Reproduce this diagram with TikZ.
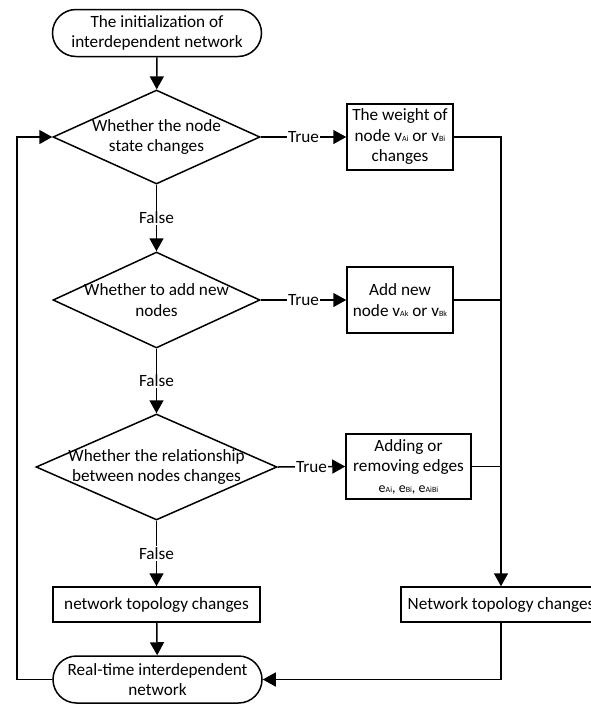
\documentclass[tikz,border=0pt]{standalone}
\usepackage{fontspec}
\setmainfont{Carlito}
\usetikzlibrary{arrows.meta,shapes.geometric,shapes.misc}
\newcommand\smallsub[1]{{\fontsize{8}{8}\selectfont #1}}
\begin{document}
\begin{tikzpicture}[x=1pt,y=-1pt,
  every node/.style={font=\fontsize{17.2}{20.5}\selectfont, align=center},
  base/.style={draw, line width=1.5pt, inner sep=0pt},
  term/.style={base, rounded rectangle, minimum width=209pt, minimum height=47pt},
  proc/.style={base, rectangle},
  dia/.style={base, diamond},
  lab/.style={fill=white, inner sep=1pt},
  line/.style={line width=1.5pt},
  arr/.style={line, -{Triangle[length=13pt,width=14pt]}}]
\useasboundingbox (0,0) rectangle (591,705);

\node[term] (start) at (157,33) {The initialization of\\interdependent network};

\node[dia, minimum width=207pt, minimum height=94pt] (d1) at (156.5,137) {};
\node (d1t) at (d1) {Whether the node\\state changes};

\node[dia, minimum width=207pt, minimum height=96pt] (d2) at (156.5,300) {};
\node (d2t) at (d2) {Whether to add new\\nodes};

\node[dia, minimum width=241pt, minimum height=106pt] (d3) at (156.5,467) {};
\node (d3t) at (d3) {Whether the relationship\\between nodes changes};

\node[proc, minimum width=207pt, minimum height=35pt] (p1) at (156.5,604.5) {network topology changes};

\node[term] (end) at (157.5,679.5) {Real-time interdependent\\network};

\node[proc, minimum width=106pt, minimum height=66pt] (b1) at (400,137) {The weight of\\node v\smallsub{Ai} or v\smallsub{Bi}\\changes};
\node[proc, minimum width=106pt, minimum height=66pt] (b2) at (400,300) {Add new\\node v\smallsub{Ak} or v\smallsub{Bk}};
\node[proc, minimum width=125pt, minimum height=65pt] (b3) at (408.5,466.5) {Adding or\\removing edges\\{\fontsize{14}{16}\selectfont e\smallsub{Ai}, e\smallsub{Bi}, e\smallsub{AiBi}}};

\node[proc, minimum width=200pt, minimum height=35pt] (b4) at (501,604.5) {Network topology changes};

\draw[arr] (start) -- (d1);
\draw[arr] (d1.south) -- node[lab]{False} (d2.north);
\draw[arr] (d2.south) -- node[lab]{False} (d3.north);
\draw[arr] (d3.south) -- node[lab]{False} (p1.north);
\draw[arr] (p1) -- (end);

\draw[arr] (d1.east) -- node[lab]{True} (b1.west);
\draw[arr] (d2.east) -- node[lab]{True} (b2.west);
\draw[arr] (d3.east) -- node[lab]{True} (b3.west);

\draw[arr] (b1.east) -| (b4.north);
\draw[line] (b2.east) -- (b2.east -| b4.north);
\draw[line] (b3.east) -- (b3.east -| b4.north);
\draw[arr] (b4.south) |- (end.east);

\coordinate (loop) at (17,679.5);
\draw[arr] (end.west) -- (loop) |- (d1.west);
\end{tikzpicture}
\end{document}
